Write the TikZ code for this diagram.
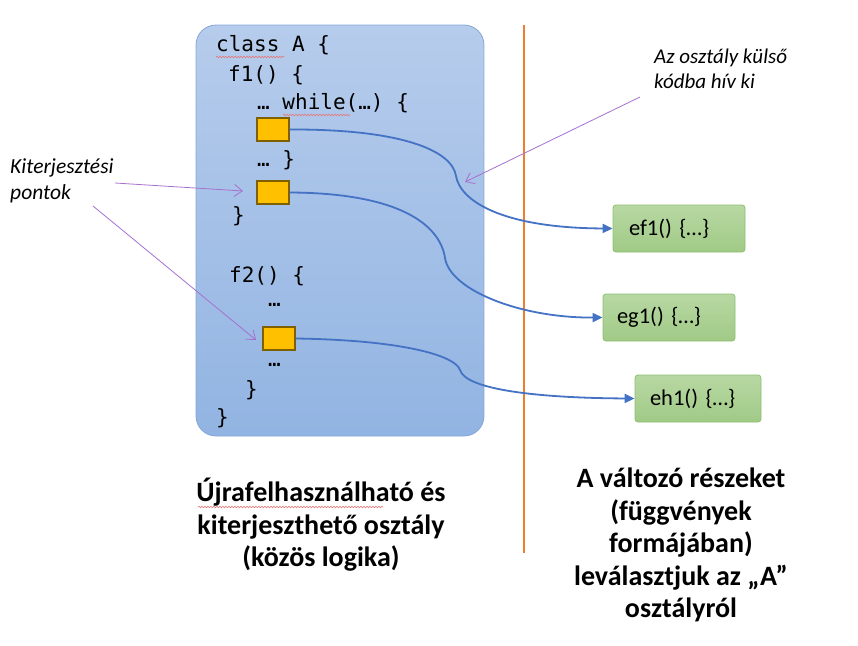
\documentclass[tikz,border=0pt]{standalone}
\usepackage{fontspec}
\setmainfont{Carlito}
\setmonofont{DejaVu Sans Mono}
\usetikzlibrary{arrows.meta,decorations.pathmorphing}
\definecolor{boxtop}{RGB}{182,204,236}
\definecolor{boxbot}{RGB}{146,180,226}
\definecolor{boxline}{RGB}{132,166,214}
\definecolor{gtop}{RGB}{184,216,163}
\definecolor{gbot}{RGB}{160,202,134}
\definecolor{gline}{RGB}{140,190,115}
\definecolor{ylw}{RGB}{255,192,0}
\definecolor{ylwline}{RGB}{127,96,0}
\definecolor{conn}{RGB}{68,114,196}
\definecolor{anno}{RGB}{166,112,208}
\definecolor{orng}{RGB}{237,125,49}
\definecolor{squig}{RGB}{230,120,120}
\tikzset{
  code/.style={anchor=west,inner sep=0pt,font=\ttfamily\fontsize{21}{24}\selectfont},
  ext/.style={draw=ylwline,fill=ylw,line width=1.2pt,minimum width=32pt,minimum height=23pt,inner sep=0pt},
  func/.style={draw=gline,top color=gtop,bottom color=gbot,rounded corners=3pt,line width=0.8pt,minimum height=47pt,inner xsep=0pt,inner ysep=0pt,align=left,font=\fontsize{22.5}{26}\selectfont},
  link/.style={conn,line width=1.8pt,-{Triangle[length=10pt,width=9pt]}},
  note/.style={anno,line width=0.8pt,-{Straight Barb[length=8pt,width=12pt]}},
  notetext/.style={anchor=base west,inner sep=0pt,align=left},
  caption/.style={align=center,inner sep=0pt,font=\bfseries\fontsize{28}{32.5}\selectfont},
  squiggle/.style={squig,line width=0.6pt,decorate,decoration={snake,amplitude=0.8pt,segment length=3pt}}
}
\begin{document}
\begin{tikzpicture}[x=1pt,y=-1pt]
\useasboundingbox (0,0) rectangle (858,645);
% class box
\node[draw=boxline,line width=0.8pt,top color=boxtop,bottom color=boxbot,rounded corners=20pt,minimum width=288pt,minimum height=411pt,inner sep=0pt] (cls) at (340,230.5) {};
% separator
\draw[orng,line width=2pt] (524,25) coordinate (sepA) -- (524,553) coordinate (sepB);
% code
\node[code] (l1) at (216,45) {class A \{};
\node[code] (l2) at (228,75) {f1() \{};
\node[code] (l3) at (257,103) {… while(…) \{};
\node[code] (l4) at (257,160) {… \}};
\node[code] (l5) at (232,216) {\}};
\node[code] (l6) at (229,276) {f2() \{};
\node[code] (l7) at (268,305) {…};
\node[code] (l8) at (268,365) {…};
\node[code] (l9) at (245,390) {\}};
\node[code] (l10) at (216,418) {\}};
% spell-check squiggles
\draw[squiggle] (216,57) -- (284,57);
\draw[squiggle] (283,115) -- (350,115);
\draw[squiggle] (198,507) -- (383,507);
% extension points
\node[ext] (e1) at (273,129.5) {};
\node[ext] (e2) at (273,192.5) {};
\node[ext] (e3) at (279,338.5) {};
% external functions
\node[func,text width=132pt] (f1) at (679,228.5) {\hspace*{16pt}ef1() \{…\}};
\node[func,text width=132pt] (f2) at (669,317.5) {\hspace*{14pt}eg1() \{…\}};
\node[func,text width=126pt] (f3) at (698,398.5) {\hspace*{15pt}eh1() \{…\}};
% connectors
\draw[link] (e1.east) .. controls (400,129) and (452,150) .. (456,176)
  .. controls (460,200) and (500,228) .. (f1.west);
\draw[link] (e2.east) .. controls (400,193) and (440,225) .. (445,258)
  .. controls (450,290) and (520,318) .. (f2.west);
\draw[link] (e3.east) .. controls (400,340) and (455,355) .. (460,370)
  .. controls (466,390) and (540,398) .. (f3.west);
% annotations
\node[notetext,font=\itshape\fontsize{21}{25}\selectfont] (n1) at (654,88) {Az osztály külső\\kódba hív ki};
\node[notetext,font=\itshape\fontsize{21.5}{26}\selectfont] (n2) at (10,199) {Kiterjesztési\\pontok};
\coordinate (t1) at (640,97);
\coordinate (h1) at (465,182);
\draw[note] (t1) -- (h1);
\coordinate (t2) at (115,183);
\coordinate (h2) at (243,191);
\draw[note] (t2) -- (h2);
\coordinate (t3) at (93,206);
\coordinate (h3) at (256,340);
\draw[note] (t3) -- (h3);
% captions
\node[caption] (c1) at (321,525) {Újrafelhasználható és\\kiterjeszthető osztály\\(közös logika)};
\node[caption] (c2) at (681,545) {A változó részeket\\(függvények\\formájában)\\leválasztjuk az „A”\\osztályról};
\end{tikzpicture}
\end{document}
